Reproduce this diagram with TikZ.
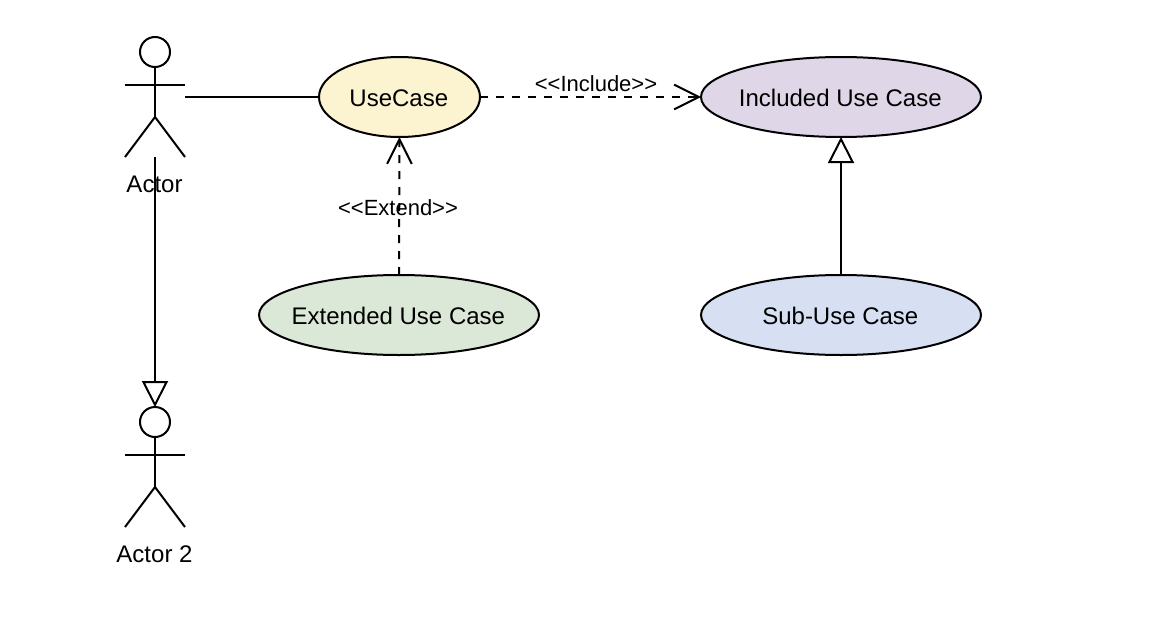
\documentclass[tikz,border=0pt]{standalone}
\usepackage{fontspec}
\setmainfont{Liberation Sans}
\usetikzlibrary{arrows.meta,shapes.geometric}
\definecolor{caseYellow}{RGB}{252,243,208}
\definecolor{casePurple}{RGB}{223,215,231}
\definecolor{caseGreen}{RGB}{219,231,215}
\definecolor{caseBlue}{RGB}{214,224,242}
\newcommand{\caseName}[1]{\raisebox{0pt}[\dimexpr\height+1.5pt\relax]{\makebox[0pt]{\hspace{-1pt}#1}}}
\tikzstyle{useCaseBox} = [shape=ellipse, draw=black, text=black, line width=1.5pt,
	align=center, inner sep=0pt, outer sep=0pt, font=\fontsize{18}{20}\selectfont]
\tikzstyle{SmallCase} = [useCaseBox, minimum width=120.75pt, minimum height=60pt]
\tikzstyle{WideCase} = [useCaseBox, minimum width=210pt, minimum height=60pt]
\tikzstyle{actorBox} = [shape=rectangle, inner sep=0pt, outer sep=0pt,
	minimum width=45pt, minimum height=90pt]
\tikzstyle{nameText} = [text=black, inner sep=0pt, font=\fontsize{18}{20}\selectfont]
\tikzstyle{tagText} = [text=black, inner sep=0pt, font=\fontsize{16.5}{18}\selectfont]
\tikzstyle{link} = [line width=1.5pt, draw=black]
\tikzstyle{dashLink} = [link, dash pattern=on 6pt off 6pt]
\tikzstyle{openTip} = [-{Straight Barb[length=18.5pt, width=18.5pt, line width=1.5pt]}]
\tikzstyle{hollowTip} = [-{Triangle[length=19.5pt, width=19.5pt, fill=white, line width=1.5pt]}]

\begin{document}
\begin{tikzpicture}[x=0.75pt, y=-0.75pt]
  \useasboundingbox (0,0) rectangle (1160,628);
  % actors
  \node[actorBox] (actorOne) at (155,97) {};
  \node[actorBox] (actorTwo) at (155,467) {};
  \foreach \who in {actorOne, actorTwo} {
	\draw[link] ([yshift=-11.25pt]\who.north) circle (11.25pt);
	\draw[link] ([yshift=-22.5pt]\who.north) -- ([yshift=30pt]\who.south);
	\draw[link] ([yshift=-36pt]\who.north west) -- ([yshift=-36pt]\who.north east);
	\draw[link] (\who.south west) -- ([yshift=30pt]\who.south) -- (\who.south east);
  }
  \node[nameText] (actorOneName) at (154.5,184.5) {Actor};
  \node[nameText] (actorTwoName) at (154.5,554.5) {Actor 2};
  % use cases
  \node[SmallCase, fill=caseYellow] (useCase) at (399.5,97) {\caseName{UseCase}};
  \node[WideCase, fill=casePurple] (includedCase) at (841,97) {\caseName{Included Use Case}};
  \node[WideCase, fill=caseGreen] (extendedCase) at (399,315) {\caseName{Extended Use Case}};
  \node[WideCase, fill=caseBlue] (subCase) at (841,315) {\caseName{Sub-Use Case}};
  % connectors
  \draw[link] (actorOne.east) -- (useCase.west);
  \draw[link, hollowTip] (actorOne.south) -- (actorTwo.north);
  \draw[dashLink, openTip] (useCase.east) -- (includedCase.west);
  \draw[dashLink, openTip] (extendedCase.north) -- (useCase.south);
  \draw[link, hollowTip] (subCase.north) -- (includedCase.south);
  % tags
  \node[tagText] (includeTag) at (596,84) {<{}<Include>{}>};
  \node[tagText] (extendTag) at (398,208) {<{}<Extend>{}>};
\end{tikzpicture}
\end{document}
